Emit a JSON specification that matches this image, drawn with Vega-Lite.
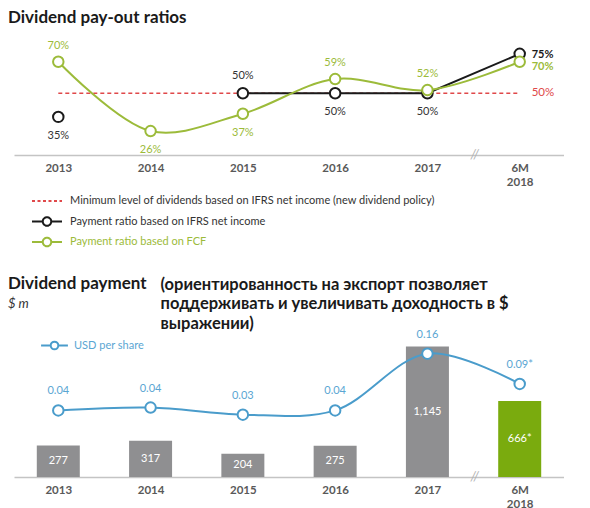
{
  "$schema": "https://vega.github.io/schema/vega-lite/v6.json",
  "background": "white",
  "padding": {"left": 8, "top": 8, "right": 0, "bottom": 0},
  "spacing": 24,
  "config": {
    "view": {"stroke": null},
    "font": "Lato",
    "title": {"font": "Lato"},
    "text": {"font": "Lato"}
  },
  "resolve": {
    "scale": {"x": "independent", "y": "independent", "color": "independent"},
    "legend": {"color": "independent"}
  },
  "vconcat": [
    {
      "width": 550,
      "height": 115,
      "title": {
        "text": "Dividend pay-out ratios",
        "anchor": "start",
        "frame": "group",
        "dx": -6,
        "fontSize": 17,
        "fontWeight": "bold",
        "color": "#1a1a1a",
        "offset": 13
      },
      "data": {
        "values": [
          {"period": "2013", "series": "Payment ratio based on IFRS net income", "ratio": 35, "label": "35%"},
          {"period": "2015", "series": "Payment ratio based on IFRS net income", "ratio": 50, "label": "50%"},
          {"period": "2016", "series": "Payment ratio based on IFRS net income", "ratio": 50, "label": "50%"},
          {"period": "2017", "series": "Payment ratio based on IFRS net income", "ratio": 50, "label": "50%"},
          {"period": "6M 2018", "series": "Payment ratio based on IFRS net income", "ratio": 75, "label": "75%"},
          {"period": "2013", "series": "Payment ratio based on FCF", "ratio": 70, "label": "70%"},
          {"period": "2014", "series": "Payment ratio based on FCF", "ratio": 26, "label": "26%"},
          {"period": "2015", "series": "Payment ratio based on FCF", "ratio": 37, "label": "37%"},
          {"period": "2016", "series": "Payment ratio based on FCF", "ratio": 59, "label": "59%"},
          {"period": "2017", "series": "Payment ratio based on FCF", "ratio": 52, "label": "52%"},
          {"period": "6M 2018", "series": "Payment ratio based on FCF", "ratio": 70, "label": "70%"},
          {"period": "2013", "series": "Minimum level of dividends based on IFRS net income (new dividend policy)", "ratio": 50, "label": "50%"},
          {"period": "6M 2018", "series": "Minimum level of dividends based on IFRS net income (new dividend policy)", "ratio": 50, "label": "50%"}
        ]
      },
      "encoding": {
        "x": {
          "field": "period",
          "type": "ordinal",
          "scale": {"type": "point", "domain": ["2013", "2014", "2015", "2016", "2017", "6M 2018"], "padding": 0.48},
          "axis": {
            "title": null,
            "labelExpr": "split(datum.label, ' ')",
            "labelAngle": 0,
            "ticks": false,
            "domainColor": "#c4c4c4",
            "domainWidth": 1.5,
            "labelFontSize": 11.5,
            "labelFontWeight": "bold",
            "labelColor": "#595959",
            "labelPadding": 7,
            "labelLineHeight": 14,
            "labelFont": "Lato"
          }
        },
        "y": {"field": "ratio", "type": "quantitative", "scale": {"domain": [10.8, 83.8]}, "axis": null}
      },
      "layer": [
        {
          "transform": [{"filter": "datum.series === 'Minimum level of dividends based on IFRS net income (new dividend policy)'"}],
          "mark": {"type": "line", "strokeDash": [4, 3], "strokeWidth": 1.3},
          "encoding": {
            "color": {
              "field": "series",
              "type": "nominal",
              "scale": {
                "domain": [
                  "Minimum level of dividends based on IFRS net income (new dividend policy)",
                  "Payment ratio based on IFRS net income",
                  "Payment ratio based on FCF"
                ],
                "range": ["#e0484a", "#1a1a1a", "#9cbb3a"]
              },
              "legend": {
                "orient": "none",
                "legendX": 27,
                "legendY": 155,
                "direction": "vertical",
                "title": null,
                "symbolType": {"expr": "datum.index === 0 ? 'M-3,0H3M0,-0.85L0,-0.85M0,0.85L0,0.85' : 'M-3,0H-0.85M0.85,0H3M-0.85,0A0.85,0.85 0 1 1 0.85,0A0.85,0.85 0 1 1 -0.85,0'"},
                "symbolDash": {"expr": "datum.index === 0 ? [3, 2.5] : [1, 0]"},
                "symbolSize": 100,
                "symbolStrokeWidth": 2,
                "symbolFillColor": "white",
                "labelFontSize": 11,
                "labelFont": "Lato",
                "labelColor": {"expr": "datum.index === 2 ? '#9cbb3a' : '#333333'"},
                "labelOffset": 17,
                "labelLimit": 450,
                "rowPadding": 2.5
              }
            }
          }
        },
        {
          "transform": [{"filter": "datum.series === 'Payment ratio based on IFRS net income' && datum.period !== '2013'"}],
          "mark": {"type": "line", "strokeWidth": 2},
          "encoding": {"color": {"field": "series", "type": "nominal"}}
        },
        {
          "transform": [{"filter": "datum.series === 'Payment ratio based on FCF'"}],
          "mark": {"type": "line", "strokeWidth": 2, "interpolate": "catmull-rom"},
          "encoding": {"color": {"field": "series", "type": "nominal"}}
        },
        {
          "transform": [{"filter": "datum.series === 'Payment ratio based on IFRS net income'"}],
          "mark": {"type": "point", "filled": false, "fill": "white", "strokeWidth": 2, "size": 110, "opacity": 1},
          "encoding": {"color": {"field": "series", "type": "nominal"}}
        },
        {
          "transform": [{"filter": "datum.series === 'Payment ratio based on FCF'"}],
          "mark": {"type": "point", "filled": false, "fill": "white", "strokeWidth": 2, "size": 110, "opacity": 1},
          "encoding": {"color": {"field": "series", "type": "nominal"}}
        },
        {
          "transform": [{"filter": "datum.series === 'Payment ratio based on FCF' && indexof(['2013','2016','2017'], datum.period) >= 0"}],
          "mark": {"type": "text", "dy": -16, "baseline": "middle", "fontSize": 11, "color": "#9cbb3a"},
          "encoding": {"text": {"field": "label"}}
        },
        {
          "transform": [{"filter": "datum.series === 'Payment ratio based on FCF' && indexof(['2014','2015'], datum.period) >= 0"}],
          "mark": {"type": "text", "dy": 19, "baseline": "middle", "fontSize": 11, "color": "#9cbb3a"},
          "encoding": {"text": {"field": "label"}}
        },
        {
          "transform": [{"filter": "datum.series === 'Payment ratio based on IFRS net income' && datum.period === '2015'"}],
          "mark": {"type": "text", "dy": -17, "baseline": "middle", "fontSize": 11, "color": "#333333"},
          "encoding": {"text": {"field": "label"}}
        },
        {
          "transform": [{"filter": "datum.series === 'Payment ratio based on IFRS net income' && indexof(['2013','2016','2017'], datum.period) >= 0"}],
          "mark": {"type": "text", "dy": 19, "baseline": "middle", "fontSize": 11, "color": "#333333"},
          "encoding": {"text": {"field": "label"}}
        },
        {
          "transform": [{"filter": "datum.series === 'Payment ratio based on IFRS net income' && datum.period === '6M 2018'"}],
          "mark": {"type": "text", "dx": 12, "dy": 1, "align": "left", "baseline": "middle", "fontSize": 11, "fontWeight": "bold", "color": "#1a1a1a"},
          "encoding": {"text": {"field": "label"}}
        },
        {
          "transform": [{"filter": "datum.series === 'Payment ratio based on FCF' && datum.period === '6M 2018'"}],
          "mark": {"type": "text", "dx": 12, "dy": 5, "align": "left", "baseline": "middle", "fontSize": 11, "fontWeight": "bold", "color": "#9cbb3a"},
          "encoding": {"text": {"field": "label"}}
        },
        {
          "transform": [{"filter": "datum.series === 'Minimum level of dividends based on IFRS net income (new dividend policy)' && datum.period === '6M 2018'"}],
          "mark": {"type": "text", "dx": 12, "align": "left", "baseline": "middle", "fontSize": 11.5, "color": "#e0484a"},
          "encoding": {"text": {"field": "label"}}
        },
        {
          "transform": [{"filter": "datum.series === 'Minimum level of dividends based on IFRS net income (new dividend policy)' && datum.period === '6M 2018'"}],
          "mark": {"type": "text", "dx": -45, "baseline": "middle", "fontSize": 13, "fontStyle": "italic", "color": "#b0b0b0"},
          "encoding": {
            "y": {"datum": 10.8, "type": "quantitative"},
            "text": {"value": "//"}
          }
        }
      ]
    },
    {
      "width": 550,
      "height": 156,
      "title": {
        "text": "Dividend payment",
        "subtitle": "$ m",
        "anchor": "start",
        "frame": "group",
        "dx": -6,
        "fontSize": 17,
        "fontWeight": "bold",
        "color": "#1a1a1a",
        "subtitleFontStyle": "italic",
        "subtitleFontSize": 13,
        "subtitleColor": "#333333",
        "subtitlePadding": 5,
        "offset": -36
      },
      "data": {
        "values": [
          {"period": "2013", "amount": 277, "amount_label": "277", "usd": 0.040, "usd_label": "0.04", "series": "USD per share"},
          {"period": "2014", "amount": 317, "amount_label": "317", "usd": 0.046, "usd_label": "0.04", "series": "USD per share"},
          {"period": "2015", "amount": 204, "amount_label": "204", "usd": 0.031, "usd_label": "0.03", "series": "USD per share"},
          {"period": "2016", "amount": 275, "amount_label": "275", "usd": 0.040, "usd_label": "0.04", "series": "USD per share"},
          {"period": "2017", "amount": 1145, "amount_label": "1,145", "usd": 0.160, "usd_label": "0.16", "series": "USD per share"},
          {"period": "6M 2018", "amount": 666, "amount_label": "666*", "usd": 0.096, "usd_label": "0.09*", "series": "USD per share"}
        ]
      },
      "resolve": {"scale": {"y": "independent"}},
      "encoding": {
        "x": {
          "field": "period",
          "type": "ordinal",
          "scale": {"type": "point", "domain": ["2013", "2014", "2015", "2016", "2017", "6M 2018"], "padding": 0.48},
          "axis": {
            "title": null,
            "labelExpr": "split(datum.label, ' ')",
            "labelAngle": 0,
            "ticks": false,
            "domainColor": "#c4c4c4",
            "domainWidth": 1.5,
            "labelFontSize": 11.5,
            "labelFontWeight": "bold",
            "labelColor": "#595959",
            "labelPadding": 7,
            "labelLineHeight": 14,
            "labelFont": "Lato"
          }
        }
      },
      "layer": [
        {
          "encoding": {
            "y": {
              "field": "amount",
              "type": "quantitative",
              "scale": {"domain": [0, 1368]},
              "axis": {
                "title": ["(ориентированность на экспорт позволяет", "поддерживать и увеличивать доходность в $", "выражении)"],
                "titleAngle": 0,
                "titleAlign": "left",
                "titleBaseline": "top",
                "titleX": 146,
                "titleY": -45,
                "titleFontSize": 16.5,
                "titleFontWeight": "bold",
                "titleColor": "#1a1a1a",
                "titleLineHeight": 19.5,
                "titleFont": "Lato, 'Open Sans', sans-serif",
                "labels": false,
                "ticks": false,
                "domain": false,
                "grid": false
              }
            }
          },
          "layer": [
            {
              "mark": {"type": "bar", "size": 43},
              "encoding": {
                "color": {"condition": {"test": "datum.period === '6M 2018'", "value": "#7aab0e"}, "value": "#8f8f91"}
              }
            },
            {
              "transform": [{"filter": "datum.period === '6M 2018'"}],
              "mark": {"type": "text", "dx": -45, "baseline": "middle", "fontSize": 13, "fontStyle": "italic", "color": "#b0b0b0"},
              "encoding": {
                "y": {"datum": 0, "type": "quantitative"},
                "text": {"value": "//"}
              }
            }
          ]
        },
        {
          "mark": {"type": "text", "baseline": "middle", "fontSize": 11, "color": "white"},
          "encoding": {
            "y": {"field": "amount", "type": "quantitative", "scale": {"domain": [0, 2736]}, "axis": null},
            "text": {"field": "amount_label"}
          }
        },
        {
          "encoding": {
            "y": {"field": "usd", "type": "quantitative", "scale": {"domain": [-0.1008, 0.229]}, "axis": null}
          },
          "layer": [
            {
              "mark": {"type": "line", "strokeWidth": 2, "interpolate": "catmull-rom"},
              "encoding": {
                "color": {
                  "field": "series",
                  "type": "nominal",
                  "scale": {"domain": ["USD per share"], "range": ["#4a9ccb"]},
                  "legend": {
                    "orient": "none",
                    "legendX": 35,
                    "legendY": 19,
                    "title": null,
                    "symbolType": "M-3,0H-0.85M0.85,0H3M-0.85,0A0.85,0.85 0 1 1 0.85,0A0.85,0.85 0 1 1 -0.85,0",
                    "symbolSize": 80,
                    "symbolStrokeWidth": 2,
                    "symbolFillColor": "white",
                    "labelFontSize": 11,
                    "labelFont": "Lato",
                    "labelColor": "#5aa6d3",
                    "labelOffset": 14
                  }
                }
              }
            },
            {
              "mark": {"type": "point", "filled": false, "fill": "white", "strokeWidth": 2, "size": 110, "opacity": 1},
              "encoding": {"color": {"field": "series", "type": "nominal"}}
            },
            {
              "mark": {"type": "text", "dy": -19, "baseline": "middle", "fontSize": 11, "color": "#5aa6d3"},
              "encoding": {"text": {"field": "usd_label"}}
            }
          ]
        }
      ]
    }
  ]
}
